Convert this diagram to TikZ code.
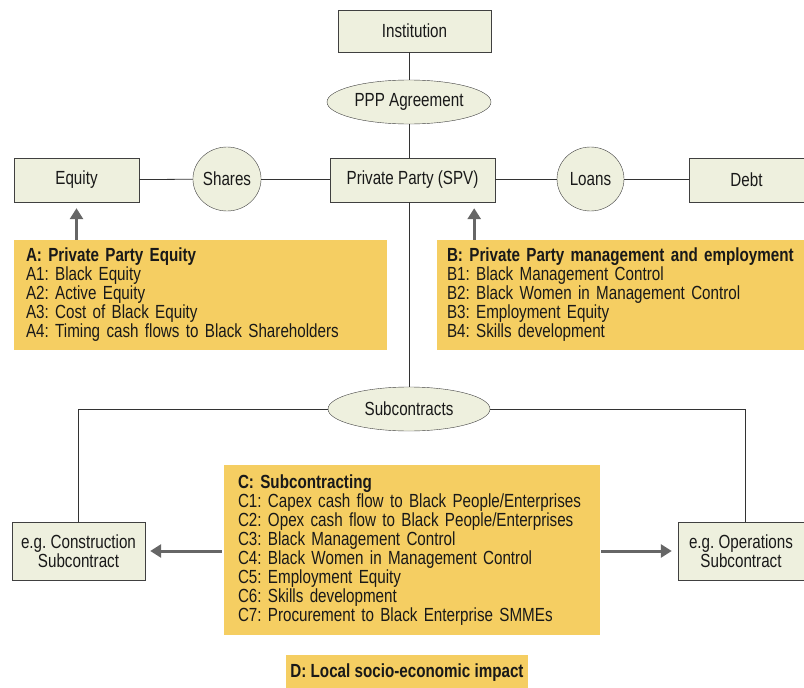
\documentclass[tikz,border=0pt]{standalone}
\usepackage{fontspec}
\setmainfont{Liberation Sans}[FakeStretch=0.8]
\usetikzlibrary{shapes.geometric, arrows.meta, positioning}
\definecolor{boxfill}{RGB}{238,240,222}
\definecolor{critfill}{RGB}{245,206,98}
\frenchspacing

\begin{document}
\begin{tikzpicture}[x=1pt, y=-1pt,
            every node/.style={font=\fontsize{19}{19}\selectfont, text=black!90},
            party/.style={draw=black!75, fill=boxfill, minimum height=44pt, inner sep=2pt, align=center},
            deal/.style={ellipse, draw=black!75, fill=boxfill, inner sep=0pt},
            criteria/.style={fill=critfill, align=left, inner sep=0pt},
            link/.style={draw=black!80, line width=0.8pt},
            push/.style={-{Triangle[length=11pt,width=13pt]}, draw=black!60, line width=3pt}]
        \useasboundingbox (0,0) rectangle (804,688);

        % parties
        \node[party, minimum width=153pt, minimum height=42pt] (inst) at (414.5,31) {Institution};
        \node[party, minimum width=165pt] (spv) at (412.5,180) {Private Party (SPV)};
        \node[party, minimum width=125pt] (equity) at (76.5,180) {Equity};
        \node[party, minimum width=115pt] (debt) at (746.5,180) {Debt};
        \node[party, minimum width=133pt, minimum height=58pt] (constr) at (78.5,551) {e.g. Construction\\Subcontract};
        \node[party, minimum width=126pt, minimum height=58pt] (oper) at (741,551) {e.g. Operations\\Subcontract};

        % agreements
        \node[deal, minimum width=164pt, minimum height=44pt] (ppp) at (409,102) {PPP Agreement};
        \node[deal, minimum width=66pt, minimum height=64pt] (shares) at (227,179) {Shares};
        \node[deal, minimum width=67pt, minimum height=64pt] (loans) at (590.5,179) {Loans};
        \node[deal, minimum width=162pt, minimum height=44pt] (sub) at (409,409) {Subcontracts};

        % criteria
        \node[criteria, minimum width=373pt, minimum height=110pt, text width=349pt] (critA) at (200.5,295) {%
            \textbf{A: Private Party Equity}\\
            A1: Black Equity\\
            A2: Active Equity\\
            A3: Cost of Black Equity\\
            A4: Timing cash flows to Black Shareholders};
        \node[criteria, minimum width=367pt, minimum height=110pt, text width=347pt] (critB) at (620.5,295) {%
            \textbf{B: Private Party management and employment}\\
            B1: Black Management Control\\
            B2: Black Women in Management Control\\
            B3: Employment Equity\\
            B4: Skills development};
        \node[criteria, minimum width=376pt, minimum height=170pt, text width=348pt] (critC) at (412,550) {%
            \textbf{C: Subcontracting}\\
            C1: Capex cash flow to Black People/Enterprises\\
            C2: Opex cash flow to Black People/Enterprises\\
            C3: Black Management Control\\
            C4: Black Women in Management Control\\
            C5: Employment Equity\\
            C6: Skills development\\
            C7: Procurement to Black Enterprise SMMEs};
        \node[criteria, minimum width=242pt, minimum height=36pt, align=center, font=\fontsize{19}{19}\selectfont\bfseries] (critD) at (407,673) {D: Local socio-economic impact};

        % connectors
        \draw[link] (inst.south -| ppp) -- (ppp);
        \draw[link] (ppp) -- (ppp |- spv.north);
        \draw[link] (equity) -- (shares);
        \draw[link] (shares) -- (shares -| spv.west);
        \draw[link] (spv.east |- loans) -- (loans);
        \draw[link] (loans) -- (loans -| debt.west);
        \draw[link] (spv.south -| sub) -- (sub);
        \draw[link] (sub.west) -| (constr.north);
        \draw[link] (sub.east) -| ([xshift=4pt]oper.north);

        % criteria arrows
        \coordinate (bpoint) at ([xshift=-21pt]spv.south east);
        \draw[push, shorten >=6pt] (critA.north -| equity) -- (equity);
        \draw[push, shorten >=6pt] (critB.north -| bpoint) -- (bpoint);
        \draw[push, shorten >=5pt] ([xshift=-2pt]critC.west |- constr) -- (constr.east);
        \draw[push, shorten >=6pt] ([xshift=1pt]critC.east |- oper) -- (oper.west);
\end{tikzpicture}
\end{document}
